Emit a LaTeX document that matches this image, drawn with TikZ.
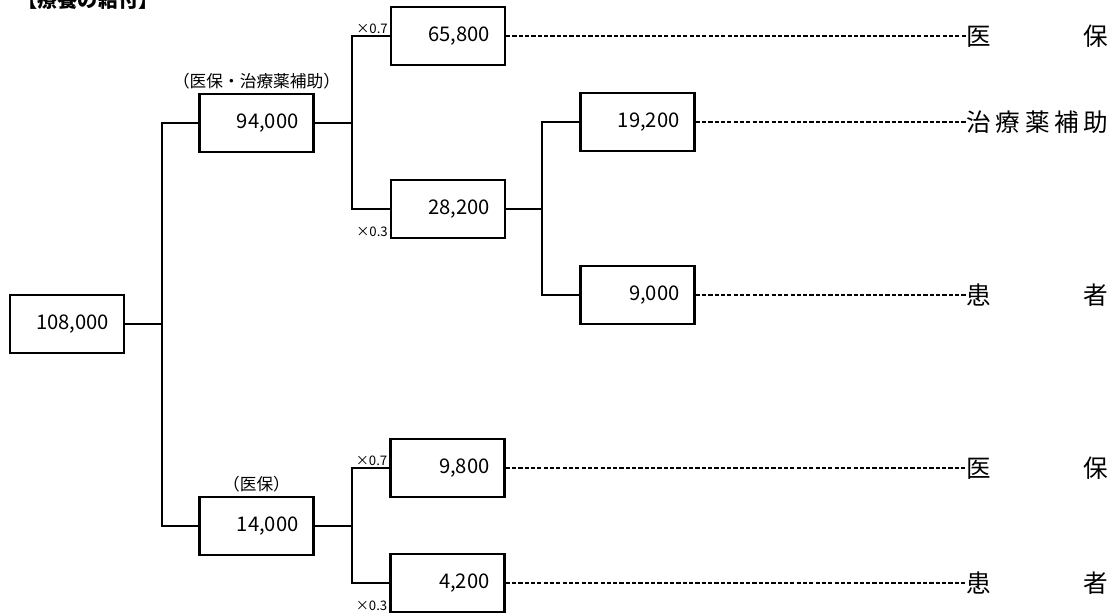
\documentclass[tikz,border=0pt]{standalone}
\usepackage{fontspec}
\setmainfont{Noto Sans CJK JP}
\usetikzlibrary{positioning}

\begin{document}
\begin{tikzpicture}[x=0.02cm,y=-0.02cm]
    \tikzstyle{every node}=[font=\fontsize{11.5}{13}\selectfont]
    \tikzstyle{valbox}=[draw, line width=1.3pt, minimum height=1.16cm, text width=1.68cm, align=right, inner xsep=0.3cm]
    \tikzstyle{conn}=[line width=1.3pt]
    \tikzstyle{dashline}=[line width=0.7pt, dash pattern=on 2.4pt off 1.2pt]
    \tikzstyle{rate}=[font=\fontsize{7.5}{8}\selectfont, inner sep=1pt]
    \tikzstyle{payer}=[font=\fontsize{9.5}{11}\selectfont, inner sep=2pt]
    \tikzstyle{endlabel}=[anchor=west, inner sep=0pt, font=\fontsize{14}{16}\selectfont]
    \useasboundingbox (0,0) rectangle (1116,613);
    \node[anchor=base west, inner sep=0pt, font=\fontsize{11.5}{13}\selectfont\bfseries] (title) at (17,7) {【療養の給付】};
    % boxes
    \node[valbox] (n108) at (67,324) {108,000};
    \node[valbox] (n94) at (256.5,123) {94,000};
    \node[valbox] (n14) at (256.5,526) {14,000};
    \node[valbox] (n658) at (448,36) {65,800};
    \node[valbox] (n282) at (448,209) {28,200};
    \node[valbox] (n192) at (637.5,122) {19,200};
    \node[valbox] (n90) at (637.5,295) {9,000};
    \node[valbox] (n98) at (447.5,468) {9,800};
    \node[valbox] (n42) at (447.5,583) {4,200};
    \node[payer, above=0pt of n94] (p94) {（医保・治療薬補助）};
    \node[payer, above=0pt of n14] (p14) {（医保）};
    % junctions
    \coordinate (j1) at (162,324);
    \coordinate (j2) at (352,123);
    \coordinate (j3) at (542,209);
    \coordinate (j4) at (352,526);
    \draw[conn] (n108.east) -- (j1);
    \draw[conn] (n94.west) -| (j1) |- (n14.west);
    \draw[conn] (n94.east) -- (j2);
    \draw[conn] (n658.west) -| (j2) |- (n282.west);
    \draw[conn] (n282.east) -- (j3);
    \draw[conn] (n192.west) -| (j3) |- (n90.west);
    \draw[conn] (n14.east) -- (j4);
    \draw[conn] (n98.west) -| (j4) |- (n42.west);
    % rates
    \node[rate, anchor=south east] (r1) at (n658.west) {×0.7};
    \node[rate, anchor=south east] (r2) at (n282.south west) {×0.3};
    \node[rate, anchor=south east] (r3) at (n98.west) {×0.7};
    \node[rate, anchor=south east] (r4) at (n42.south west) {×0.3};
    % who pays
    \node[endlabel] (e1) at (966,36) {\makebox[2.84cm][s]{医\hfill 保}};
    \node[endlabel] (e2) at (966,122) {\makebox[2.84cm][s]{治\hfill 療\hfill 薬\hfill 補\hfill 助}};
    \node[endlabel] (e3) at (966,295) {\makebox[2.84cm][s]{患\hfill 者}};
    \node[endlabel] (e4) at (966,468) {\makebox[2.84cm][s]{医\hfill 保}};
    \node[endlabel] (e5) at (966,583) {\makebox[2.84cm][s]{患\hfill 者}};
    \draw[dashline] (n658.east) -- (e1.west);
    \draw[dashline] (n192.east) -- (e2.west);
    \draw[dashline] (n90.east) -- (e3.west);
    \draw[dashline] (n98.east) -- (e4.west);
    \draw[dashline] (n42.east) -- (e5.west);
\end{tikzpicture}
\end{document}
